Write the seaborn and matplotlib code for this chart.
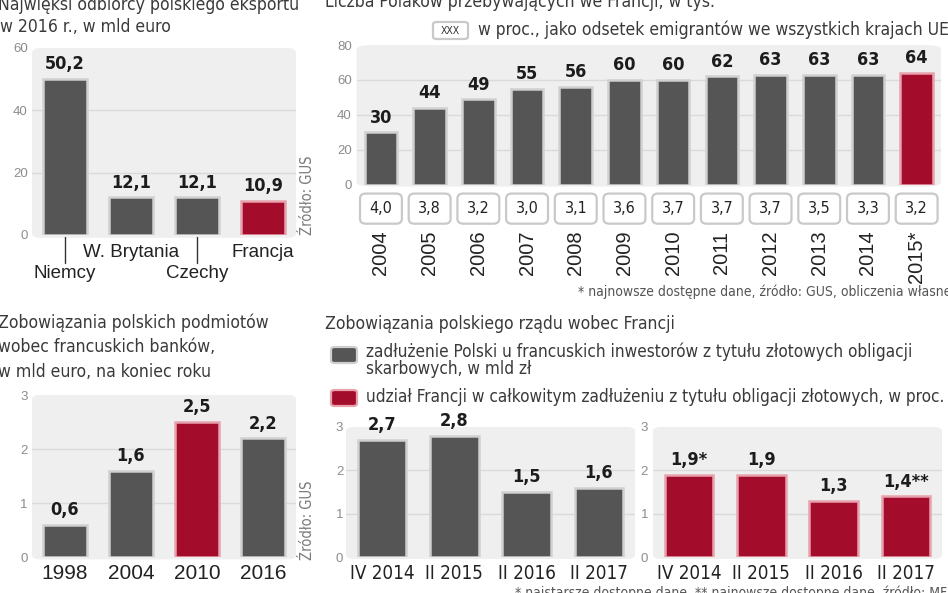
import numpy as np
import pandas as pd
import matplotlib
matplotlib.use('Agg')
import matplotlib.pyplot as plt
import matplotlib.transforms as mtrans
from matplotlib import font_manager
from matplotlib.patches import FancyBboxPatch
import seaborn as sns

# --- dane ---
eksport_kraje = ['Niemcy', 'W. Brytania', 'Czechy', 'Francja']
eksport_mld = [50.2, 12.1, 12.1, 10.9]

polacy_lata = ['2004', '2005', '2006', '2007', '2008', '2009', '2010',
               '2011', '2012', '2013', '2014', '2015*']
polacy_tys = [30, 44, 49, 55, 56, 60, 60, 62, 63, 63, 63, 64]
polacy_proc = [4.0, 3.8, 3.2, 3.0, 3.1, 3.6, 3.7, 3.7, 3.7, 3.5, 3.3, 3.2]

banki_lata = ['1998', '2004', '2010', '2016']
banki_mld = [0.6, 1.6, 2.5, 2.2]

okresy = ['IV 2014', 'II 2015', 'II 2016', 'II 2017']
dlug_mld_zl = [2.7, 2.8, 1.5, 1.6]
udzial_proc = [1.9, 1.9, 1.3, 1.4]
udzial_dopiski = ['*', '', '', '**']

GREY = '#555555'
RED = '#a30d2b'

sns.set_theme(style='white')
avail = {f.name for f in font_manager.fontManager.ttflist}
REG = 'Liberation Sans' if 'Liberation Sans' in avail else 'DejaVu Sans'
plt.rcParams['font.family'] = [REG, 'DejaVu Sans']
# waski krój (DejaVu Sans Condensed)
NK = dict(family='DejaVu Sans', fontstretch='condensed')

W, H = 948, 593
fig = plt.figure(figsize=(W / 100, H / 100), dpi=100)
fig.patch.set_facecolor('white')


def px_ax(x0, y0, x1, y1):
    return fig.add_axes([x0 / W, 1 - y1 / H, (x1 - x0) / W, (y1 - y0) / H])


def ptxt(x, y, s, **kw):
    # tekst w pikselach liczonych od lewego gornego rogu
    return fig.text(x / W, 1 - y / H, s, **kw)


def fmt(v):
    return f'{v:.1f}'.replace('.', ',')


def bar_panel(ax, cats, vals, colors, labels, ymax, yticks, tick_pad):
    df = pd.DataFrame({'k': cats, 'v': vals})
    sns.barplot(data=df, x='k', y='v', hue='k', order=cats, hue_order=cats,
                palette=colors, legend=False, width=0.67, saturation=1, ax=ax)
    for cont, lab, col in zip(ax.containers, labels, colors):
        edge = '#d0d0d0' if col == GREY else '#e8a2ad'
        for p in cont:
            p.set_edgecolor(edge)
            p.set_linewidth(1.8)
        ax.bar_label(cont, labels=[lab], padding=4, fontsize=13,
                     fontweight='bold', color='#1c1c1c', **NK)
    ax.set_ylim(0, ymax)
    ax.set_yticks(yticks)
    ax.set_xlim(-0.5, len(cats) - 0.5)
    ax.set_xlabel('')
    ax.set_ylabel('')
    ax.set_facecolor('none')
    for s in ax.spines.values():
        s.set_visible(False)
    ax.tick_params(axis='y', length=0, labelsize=9.5, labelcolor='#8c8c8c', pad=tick_pad)
    ax.tick_params(axis='x', length=0)
    ax.grid(axis='y', color='#dadada', lw=1)
    gl = ax.get_ygridlines()
    gl[0].set_visible(False)
    gl[-1].set_visible(False)
    ax.set_axisbelow(True)
    bg = FancyBboxPatch((0, -0.015), 1, 1.015, boxstyle='round,pad=0,rounding_size=0.03',
                        transform=ax.transAxes, facecolor='#efefef', edgecolor='none',
                        zorder=-5, clip_on=False)
    ax.add_patch(bg)


# ---------- panel 1: eksport ----------
axA = px_ax(32, 48, 296, 235)
colsA = [GREY, GREY, GREY, RED]
bar_panel(axA, eksport_kraje, eksport_mld, colsA, [fmt(v) for v in eksport_mld],
          60, [0, 20, 40, 60], 3)
axA.set_xticklabels([])
trA = mtrans.blended_transform_factory(axA.transData, axA.transAxes)
for i, name in enumerate(eksport_kraje):
    low = i % 2 == 0
    axA.text(i, -0.205 if low else -0.092, name, transform=trA, ha='center', va='center',
             fontsize=13.5, color='#222222')
    if low:
        axA.plot([i, i], [-0.012, -0.15], transform=trA, color='#333333', lw=1, clip_on=False)
ptxt(-2, 10, 'Najwięksi odbiorcy polskiego eksportu', fontsize=12.6, color='#3a3a3a',
     va='baseline', **NK)
ptxt(0, 32, 'w 2016 r., w mld euro', fontsize=12.6, color='#3a3a3a', va='baseline', **NK)
ptxt(308, 195, 'Źródło: GUS', rotation=90, ha='center', va='center',
     fontsize=10.5, color='#7a7a7a', **NK)

# ---------- panel 2: Polacy we Francji ----------
axB = px_ax(356.6, 45, 941, 184.5)
colsB = [GREY] * (len(polacy_lata) - 1) + [RED]
bar_panel(axB, polacy_lata, polacy_tys, colsB, [str(v) for v in polacy_tys],
          80, [0, 20, 40, 60, 80], 3.5)
axB.set_xticklabels([])
trB = mtrans.blended_transform_factory(axB.transData, axB.transAxes)
for i, (rok, pr) in enumerate(zip(polacy_lata, polacy_proc)):
    box = FancyBboxPatch((i - 0.43, -0.281), 0.86, 0.216,
                         boxstyle='round,pad=0,rounding_size=0.12', mutation_aspect=0.3,
                         transform=trB, facecolor='white', edgecolor='#c9c9c9', lw=1.6,
                         clip_on=False)
    axB.add_patch(box)
    axB.text(i, -0.173, fmt(pr), transform=trB, ha='center', va='center',
             fontsize=11.5, color='#222222', **NK)
    axB.text(i, -0.33, rok, transform=trB, ha='center', va='top', rotation=90,
             fontsize=14.5, color='#222222')
ptxt(325, 7, 'Liczba Polaków przebywających we Francji, w tys.', fontsize=12.6,
     color='#3a3a3a', va='baseline', **NK)
legB = FancyBboxPatch((433 / W, 1 - 39 / H), 35 / W, 17 / H,
                      boxstyle='round,pad=0,rounding_size=0.004', transform=fig.transFigure,
                      facecolor='white', edgecolor='#c9c9c9', lw=1.6)
fig.patches.append(legB)
ptxt(450.5, 30.5, 'XXX', ha='center', va='center', fontsize=7.5, color='#333333', **NK)
ptxt(478, 35, 'w proc., jako odsetek emigrantów we wszystkich krajach UE',
     fontsize=12.5, color='#3a3a3a', va='baseline', **NK)
ptxt(578, 296, '* najnowsze dostępne dane, źródło: GUS, obliczenia własne',
     fontsize=10, color='#555555', va='baseline', **NK)

# ---------- panel 3: banki ----------
axC = px_ax(32, 395, 296, 557)
colsC = [GREY, GREY, RED, GREY]
bar_panel(axC, banki_lata, banki_mld, colsC, [fmt(v) for v in banki_mld],
          3, [0, 1, 2, 3], 3)
axC.tick_params(axis='x', labelsize=15, labelcolor='#222222', pad=5)
for k, line in enumerate(['Zobowiązania polskich podmiotów', 'wobec francuskich banków,',
                          'w mld euro, na koniec roku']):
    ptxt(-2, 328 + 24.5 * k, line, fontsize=12.6, color='#3a3a3a', va='baseline', **NK)
ptxt(308, 520, 'Źródło: GUS', rotation=90, ha='center', va='center',
     fontsize=10.5, color='#7a7a7a', **NK)

# ---------- panel 4: rzad ----------
axD1 = px_ax(346, 427, 635, 557)
bar_panel(axD1, okresy, dlug_mld_zl, [GREY] * 4, [fmt(v) for v in dlug_mld_zl],
          3, [0, 1, 2, 3], 2)
axD2 = px_ax(653, 427, 942, 557)
bar_panel(axD2, okresy, udzial_proc, [RED] * 4,
          [fmt(v) + d for v, d in zip(udzial_proc, udzial_dopiski)], 3, [0, 1, 2, 3], 3.5)
for ax in (axD1, axD2):
    ax.tick_params(axis='x', pad=5)
    for t in ax.get_xticklabels():
        t.set_fontsize(13.5)
        t.set_family('DejaVu Sans')
        t.set_fontstretch('condensed')
        t.set_color('#222222')

ptxt(325, 329, 'Zobowiązania polskiego rządu wobec Francji', fontsize=12.6,
     color='#3a3a3a', va='baseline', **NK)
for y0, col, ec in [(347, GREY, '#cfcfcf'), (390, RED, '#e8a2ad')]:
    sq = FancyBboxPatch((331 / W, 1 - (y0 + 16) / H), 26 / W, 16 / H,
                        boxstyle='round,pad=0,rounding_size=0.004', transform=fig.transFigure,
                        facecolor=col, edgecolor=ec, lw=1.6)
    fig.patches.append(sq)
ptxt(366, 357, 'zadłużenie Polski u francuskich inwestorów z tytułu złotowych obligacji',
     fontsize=12.3, color='#3a3a3a', va='baseline', **NK)
ptxt(366, 374, 'skarbowych, w mld zł', fontsize=12.3, color='#3a3a3a', va='baseline', **NK)
ptxt(366, 402, 'udział Francji w całkowitym zadłużeniu z tytułu obligacji złotowych, w proc.',
     fontsize=12.3, color='#3a3a3a', va='baseline', **NK)
ptxt(515, 586, '* najstarsze dostępne dane, ** najnowsze dostępne dane, źródło: MF',
     fontsize=10, color='#555555', va='top', **NK)

fig.savefig('out.png', dpi=100, facecolor='white')
